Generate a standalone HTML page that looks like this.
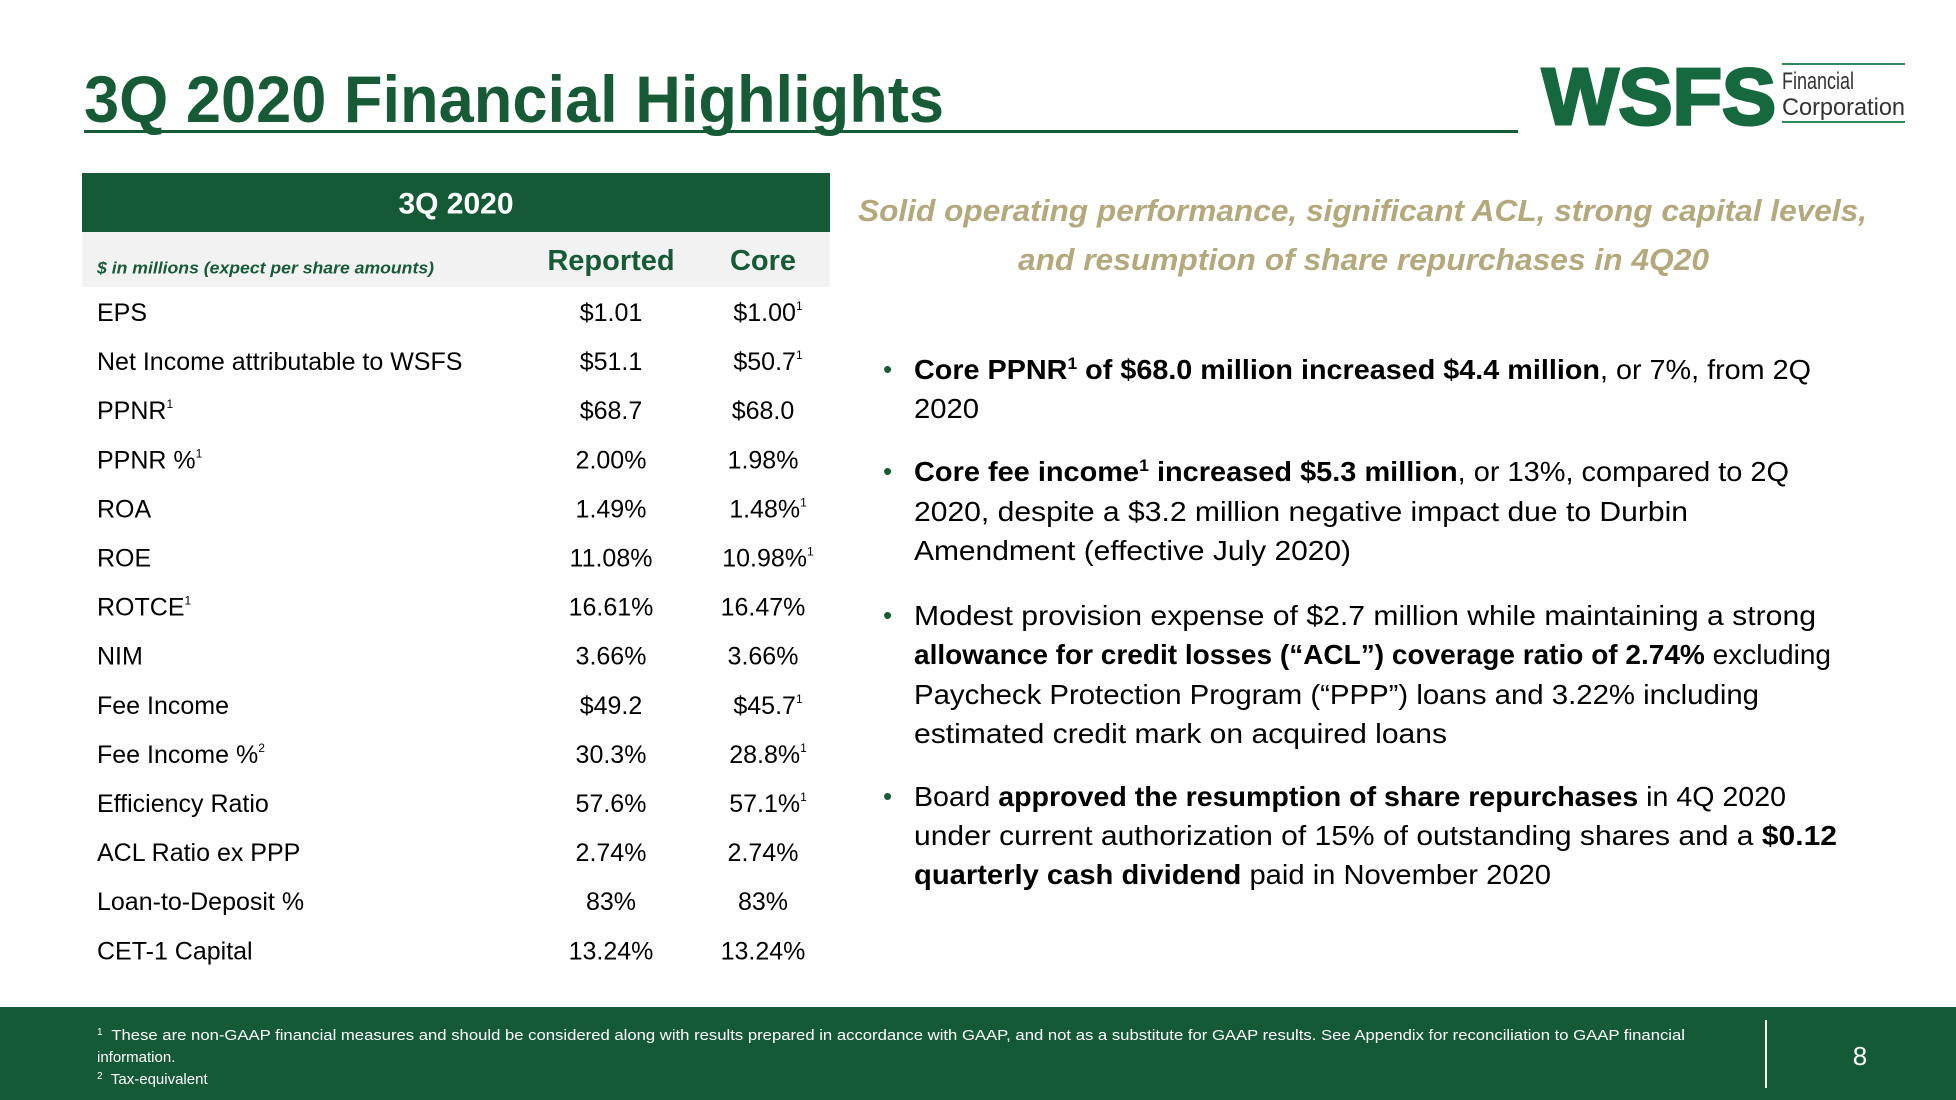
<!DOCTYPE html>
<html><head><meta charset="utf-8"><style>
html,body{margin:0;padding:0;background:#fff}
svg{display:block}
text{font-family:"Liberation Sans",sans-serif}
</style></head><body>
<svg id="s" width="1956" height="1100" viewBox="0 0 1956 1100" xmlns="http://www.w3.org/2000/svg">
<text x="84" y="122" font-size="66" font-weight="bold" fill="#175b36" textLength="860" lengthAdjust="spacingAndGlyphs">3Q 2020 Financial Highlights</text>
<rect x="84" y="130" width="1434" height="3" fill="#175b36"/>
<g>
<text x="1542" y="124" font-size="80" font-weight="bold" fill="#16693f" stroke="#16693f" stroke-width="3" textLength="234" lengthAdjust="spacingAndGlyphs">WSFS</text>
<rect x="1782" y="63" width="123" height="2" fill="#2f8a5c"/>
<rect x="1782" y="121" width="123" height="2" fill="#2f8a5c"/>
<text x="1782" y="89" font-size="24" fill="#333" textLength="72" lengthAdjust="spacingAndGlyphs">Financial</text>
<text x="1782" y="115" font-size="24" fill="#333" textLength="123" lengthAdjust="spacingAndGlyphs">Corporation</text>
</g>
<g>
<rect x="82" y="173" width="748" height="59" fill="#155a36"/>
<text x="456" y="204" font-size="30" font-weight="bold" fill="#fff" text-anchor="middle" dominant-baseline="central">3Q 2020</text>
<rect x="82" y="232" width="748" height="55" fill="#f2f2f2"/>
<text x="97" y="268" font-size="17" font-style="italic" font-weight="bold" fill="#175b36" dominant-baseline="central" textLength="337" lengthAdjust="spacingAndGlyphs">$ in millions (expect per share amounts)</text>
<text x="611" y="261" font-size="29" font-weight="bold" fill="#175b36" text-anchor="middle" dominant-baseline="central">Reported</text>
<text x="763" y="261" font-size="29" font-weight="bold" fill="#175b36" text-anchor="middle" dominant-baseline="central">Core</text>
<g id="rows"></g>
</g>
<g font-size="31" font-weight="bold" font-style="italic" fill="#b3a97c">
<text x="858" y="221" textLength="1009" lengthAdjust="spacingAndGlyphs">Solid operating performance, significant ACL, strong capital levels,</text>
<text x="1018" y="270" textLength="691" lengthAdjust="spacingAndGlyphs">and resumption of share repurchases in 4Q20</text>
</g>
<g font-size="28" fill="#000">
<g fill="#175b36" font-size="26"><text x="883" y="378">•</text><text x="883" y="480">•</text><text x="883" y="624">•</text><text x="883" y="805">•</text></g>
<text x="914" y="379" textLength="897" lengthAdjust="spacingAndGlyphs"><tspan font-weight="bold">Core PPNR</tspan><tspan font-weight="bold" font-size="17" dy="-10">1</tspan><tspan font-weight="bold" dy="10"> of $68.0 million increased $4.4 million</tspan>, or 7%, from 2Q</text>
<text x="914" y="418" textLength="65" lengthAdjust="spacingAndGlyphs">2020</text>
<text x="914" y="481" textLength="875" lengthAdjust="spacingAndGlyphs"><tspan font-weight="bold">Core fee income</tspan><tspan font-weight="bold" font-size="17" dy="-10">1</tspan><tspan font-weight="bold" dy="10"> increased $5.3 million</tspan>, or 13%, compared to 2Q</text>
<text x="914" y="521" textLength="774" lengthAdjust="spacingAndGlyphs">2020, despite a $3.2 million negative impact due to Durbin</text>
<text x="914" y="560" textLength="437" lengthAdjust="spacingAndGlyphs">Amendment (effective July 2020)</text>
<text x="914" y="625" textLength="902" lengthAdjust="spacingAndGlyphs">Modest provision expense of $2.7 million while maintaining a strong</text>
<text x="914" y="664" textLength="917" lengthAdjust="spacingAndGlyphs"><tspan font-weight="bold">allowance for credit losses (“ACL”) coverage ratio of 2.74%</tspan> excluding</text>
<text x="914" y="704" textLength="845" lengthAdjust="spacingAndGlyphs">Paycheck Protection Program (“PPP”) loans and 3.22% including</text>
<text x="914" y="743" textLength="533" lengthAdjust="spacingAndGlyphs">estimated credit mark on acquired loans</text>
<text x="914" y="806" textLength="872" lengthAdjust="spacingAndGlyphs">Board <tspan font-weight="bold">approved the resumption of share repurchases</tspan> in 4Q 2020</text>
<text x="914" y="845" textLength="923" lengthAdjust="spacingAndGlyphs">under current authorization of 15% of outstanding shares and a <tspan font-weight="bold">$0.12</tspan></text>
<text x="914" y="884" textLength="637" lengthAdjust="spacingAndGlyphs"><tspan font-weight="bold">quarterly cash dividend</tspan> paid in November 2020</text>
</g>
<rect x="0" y="1007" width="1956" height="93" fill="#155a36"/>
<rect x="1765" y="1020" width="2" height="68" fill="#fff"/>
<text x="1860" y="1056" font-size="26" fill="#fff" text-anchor="middle" dominant-baseline="central">8</text>
<g font-size="15" fill="#fff">
<text x="97" y="1040"><tspan font-size="10" dy="-5">1</tspan><tspan dy="5" x="107" textLength="1578" lengthAdjust="spacingAndGlyphs"> These are non-GAAP financial measures and should be considered along with results prepared in accordance with GAAP, and not as a substitute for GAAP results.  See Appendix for reconciliation to GAAP financial</tspan></text>
<text x="97" y="1062">information.</text>
<text x="97" y="1084"><tspan font-size="10" dy="-5">2</tspan><tspan dy="5" x="107"> Tax-equivalent</tspan></text>
</g>
</svg>
<script>
const labels=["EPS","Net Income attributable to WSFS","PPNR","PPNR %","ROA","ROE","ROTCE","NIM","Fee Income","Fee Income %","Efficiency Ratio","ACL Ratio ex PPP","Loan-to-Deposit %","CET-1 Capital"];
const labelSup=["","","1","1","","","1","","","2","","","",""];
const reported=["$1.01","$51.1","$68.7","2.00%","1.49%","11.08%","16.61%","3.66%","$49.2","30.3%","57.6%","2.74%","83%","13.24%"];
const core=["$1.00","$50.7","$68.0","1.98%","1.48%","10.98%","16.47%","3.66%","$45.7","28.8%","57.1%","2.74%","83%","13.24%"];
const coreSup=["1","1","","","1","1","","","1","1","1","","",""];
const NS="http://www.w3.org/2000/svg",g=document.getElementById("rows");
function mk(x,y,anchor,txt,sup){const t=document.createElementNS(NS,"text");t.setAttribute("x",x);t.setAttribute("y",y);t.setAttribute("font-size","25");t.setAttribute("fill","#000");t.setAttribute("text-anchor",anchor);t.textContent=txt;if(sup){const s=document.createElementNS(NS,"tspan");s.setAttribute("font-size","12");s.setAttribute("dy","-11");s.textContent=sup;t.appendChild(s);}g.appendChild(t);return t;}
labels.forEach((l,i)=>{const y=321+i*49.1;
const a=mk(97,y,"start",l,labelSup[i]);


const b=mk(611,y,"middle",reported[i],"");


const c=mk(coreSup[i]?768:763,y,"middle",core[i],coreSup[i]);


});
</script>
</body></html>
